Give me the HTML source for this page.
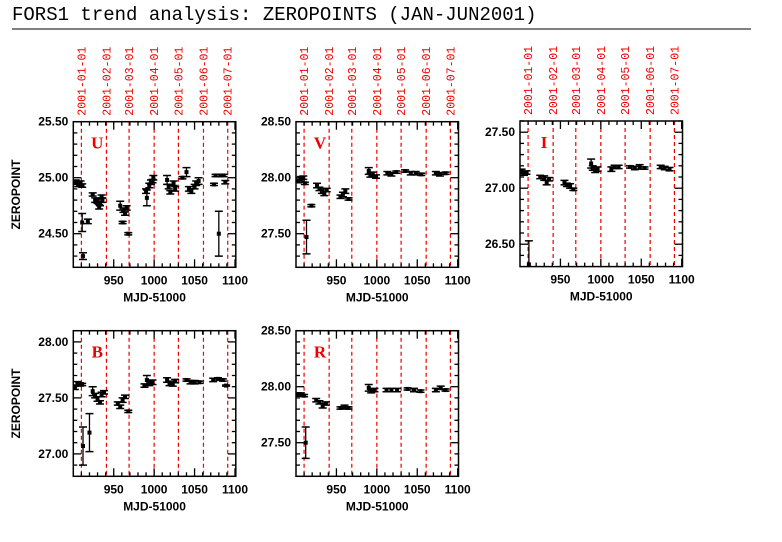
<!DOCTYPE html>
<html><head><meta charset="utf-8"><style>
html,body{margin:0;padding:0;background:#fff;}
svg{display:block;}
</style></head><body>
<svg id="chart" width="782" height="542" viewBox="0 0 782 542" xmlns="http://www.w3.org/2000/svg">
<text x="12" y="20" font-family="Liberation Mono, monospace" font-size="19" fill="#000">FORS1 trend analysis: ZEROPOINTS (JAN-JUN2001)</text>
<line x1="12" y1="29" x2="751" y2="29" stroke="#000" stroke-width="1"/>
</svg>
<script>
// data arrays: [mjd-51000, zeropoint, error]
const uData=[[903,24.96,.02],[906,24.94,.02],[909,24.95,.02],[911,24.93,.015],[911,24.60,.08],[912,24.30,.03],[918,24.61,.02],[924,24.85,.015],[927,24.80,.02],[930,24.79,.02],[933,24.77,.02],[935,24.83,.015],[932,24.74,.02],[936,24.80,.02],[958,24.75,.04],[961,24.60,.01],[962,24.71,.02],[964,24.68,.015],[966,24.73,.02],[968,24.50,.01],[990,24.88,.02],[991,24.82,.07],[994,24.93,.02],[996,24.96,.02],[998,24.97,.015],[999,25.00,.02],[1016,24.98,.04],[1018,24.92,.02],[1020,24.87,.015],[1024,24.95,.02],[1026,24.90,.02],[1035,25.00,.01],[1040,25.05,.04],[1043,24.90,.02],[1046,24.88,.02],[1050,24.92,.02],[1052,24.95,.02],[1055,24.97,.03],[1074,24.94,.01],[1076,25.02,.01],[1080,24.50,.20],[1082,25.02,.01],[1086,25.02,.01],[1088,24.96,.015]];
const vData=[[902,27.97,.015],[906,27.99,.02],[909,28.00,.015],[911,27.95,.01],[913,27.47,.15],[919,27.75,.01],[926,27.93,.02],[929,27.90,.015],[932,27.88,.02],[935,27.86,.02],[938,27.89,.015],[955,27.83,.015],[958,27.85,.02],[961,27.88,.02],[965,27.81,.01],[990,28.06,.03],[992,28.02,.015],[995,28.03,.02],[999,28.01,.015],[1013,28.04,.015],[1018,28.03,.015],[1024,28.05,.01],[1035,28.06,.01],[1042,28.04,.015],[1048,28.04,.015],[1055,28.03,.01],[1073,28.04,.015],[1078,28.03,.015],[1085,28.04,.01]];
const iData=[[902,27.15,.02],[905,27.13,.015],[908,27.14,.015],[911,26.32,.21],[925,27.10,.015],[930,27.09,.02],[933,27.05,.02],[936,27.08,.015],[955,27.05,.02],[958,27.03,.015],[962,27.02,.02],[966,26.99,.01],[988,27.22,.04],[990,27.18,.02],[993,27.16,.02],[996,27.17,.02],[1013,27.17,.02],[1017,27.19,.015],[1022,27.19,.015],[1036,27.19,.01],[1042,27.18,.015],[1048,27.19,.02],[1054,27.18,.01],[1074,27.19,.015],[1079,27.18,.015],[1085,27.17,.015]];
const bData=[[902,27.59,.015],[905,27.63,.015],[908,27.62,.015],[911,27.62,.01],[912,27.07,.17],[920,27.19,.17],[924,27.56,.04],[927,27.52,.02],[930,27.49,.02],[933,27.46,.015],[935,27.53,.02],[938,27.55,.015],[955,27.45,.015],[958,27.42,.015],[961,27.48,.02],[964,27.51,.015],[968,27.38,.01],[988,27.61,.015],[991,27.66,.04],[994,27.63,.02],[998,27.64,.02],[1016,27.66,.02],[1019,27.63,.02],[1023,27.62,.015],[1026,27.65,.015],[1040,27.66,.01],[1045,27.64,.015],[1050,27.64,.015],[1056,27.64,.01],[1073,27.66,.015],[1079,27.67,.01],[1085,27.66,.01],[1089,27.61,.005]];
const rData=[[902,27.93,.015],[906,27.93,.015],[910,27.92,.01],[912,27.50,.14],[925,27.88,.015],[929,27.86,.015],[933,27.83,.02],[937,27.85,.015],[955,27.81,.01],[960,27.82,.015],[965,27.81,.01],[990,27.99,.03],[993,27.96,.015],[997,27.97,.015],[1012,27.97,.015],[1018,27.97,.015],[1025,27.97,.015],[1038,27.98,.01],[1046,27.97,.015],[1054,27.96,.01],[1073,27.97,.015],[1079,27.99,.015],[1085,27.97,.01]];
const monthMjd=[910,941,969,1000,1030,1061,1091];
const monthLabels=["2001-01-01","2001-02-01","2001-03-01","2001-04-01","2001-05-01","2001-06-01","2001-07-01"];
const xTicks=[950,1000,1050,1100];
const xDomain=[900,1101];
const panels=[
 {name:'U',data:uData,x:73.3,y:121.7,ymin:24.2,ymax:25.5,yTicks:[24.5,25.0,25.5],dates:true,ytitle:true},
 {name:'V',data:vData,x:296,y:121.7,ymin:27.2,ymax:28.5,yTicks:[27.5,28.0,28.5],dates:true,ytitle:false},
 {name:'I',data:iData,x:520,y:121,ymin:26.3,ymax:27.6,yTicks:[26.5,27.0,27.5],dates:true,ytitle:false},
 {name:'B',data:bData,x:73.3,y:330.7,ymin:26.8,ymax:28.1,yTicks:[27.0,27.5,28.0],dates:false,ytitle:true},
 {name:'R',data:rData,x:296,y:330.7,ymin:27.2,ymax:28.5,yTicks:[27.5,28.0,28.5],dates:false,ytitle:false}
];
const W=162.5,H=145.6;
const svg=document.getElementById('chart');
const NS='http://www.w3.org/2000/svg';
function mk(tag,attrs,parent){const e=document.createElementNS(NS,tag);for(const k in attrs)e.setAttribute(k,attrs[k]);(parent||svg).appendChild(e);return e;}
panels.forEach(p=>{
 const g=mk('g',{});
 
 
 const sx=v=>p.x+(v-xDomain[0])/(xDomain[1]-xDomain[0])*W;
 const sy=v=>p.y+(p.ymax-v)/(p.ymax-p.ymin)*H;
 const clip='clip'+p.name;
 const cp=mk('clipPath',{id:clip},g);mk('rect',{x:p.x,y:p.y,width:W,height:H},cp);
 // month lines
 monthMjd.forEach((m,i)=>{
  const l=mk('line',{x1:sx(m),x2:sx(m),y1:p.y,y2:p.y+H,stroke:'#e00','stroke-width':1.2,'stroke-dasharray':'4,3'},g);
  
  
  if(p.dates){
   const t=mk('text',{x:0,y:0,transform:`translate(${sx(m)+4},${p.y-6}) rotate(-90)`,'font-family':'Liberation Mono, monospace','font-size':'11.5',fill:'#e00'},g);
   t.textContent=monthLabels[i];
   
   
  }
 });
 // ticks
 for(let v=910;v<=1100;v+=10){
  const major=v%50===0;const len=major?8:4;const xx=sx(v);
  mk('line',{x1:xx,x2:xx,y1:p.y+H,y2:p.y+H-len,stroke:'#000','stroke-width':1.3},g);
  mk('line',{x1:xx,x2:xx,y1:p.y,y2:p.y+len,stroke:'#000','stroke-width':1.3},g);
 }
 for(let k=Math.ceil(p.ymin*10+1e-6);k<=Math.floor(p.ymax*10+1e-6);k++){
  const v=k/10;const major=k%5===0;const len=major?8:4;const yy=sy(v);
  mk('line',{x1:p.x,x2:p.x+len,y1:yy,y2:yy,stroke:'#000','stroke-width':1.3},g);
  mk('line',{x1:p.x+W,x2:p.x+W-len,y1:yy,y2:yy,stroke:'#000','stroke-width':1.3},g);
 }
 xTicks.forEach(v=>{
  const t=mk('text',{x:sx(v),y:p.y+H+17,'text-anchor':'middle','font-family':'Liberation Sans, sans-serif','font-size':'12','font-weight':'bold',fill:'#000'},g);
  t.textContent=v;
  
  
 });
 p.yTicks.forEach(v=>{
  const t=mk('text',{x:p.x-5,y:sy(v)+4,'text-anchor':'end','font-family':'Liberation Sans, sans-serif','font-size':'12','font-weight':'bold',fill:'#000'},g);
  t.textContent=v.toFixed(2);
  
  
 });
 const xt=mk('text',{x:p.x+W/2,y:p.y+H+34,'text-anchor':'middle','font-family':'Liberation Sans, sans-serif','font-size':'12','font-weight':'bold',fill:'#000'},g);
 xt.textContent='MJD-51000';
 
 
 if(p.ytitle){
  const yt=mk('text',{x:0,y:0,transform:`translate(20,${p.y+H/2}) rotate(-90)`,'text-anchor':'middle','font-family':'Liberation Sans, sans-serif','font-size':'12','font-weight':'bold',fill:'#000'},g);
  yt.textContent='ZEROPOINT';
  
  
 }
 const fl=mk('text',{x:p.x+24,y:p.y+27,'text-anchor':'middle','font-family':'Liberation Serif, serif','font-size':'17','font-weight':'bold',fill:'#e00'},g);
 fl.textContent=p.name;
 
 
 // data
 const dg=mk('g',{'clip-path':`url(#${clip})`},g);
 p.data.forEach(d=>{
  const cx=sx(d[0]),cy=sy(d[1]),y1=sy(d[1]+d[2]),y2=sy(d[1]-d[2]);
  const pg=mk('g',{},dg);
  
  
  mk('line',{x1:cx,x2:cx,y1:y1,y2:y2,stroke:'#000','stroke-width':1.3},pg);
  mk('line',{x1:cx-4,x2:cx+4,y1:y1,y2:y1,stroke:'#000','stroke-width':1.5},pg);
  mk('line',{x1:cx-4,x2:cx+4,y1:y2,y2:y2,stroke:'#000','stroke-width':1.5},pg);
  mk('rect',{x:cx-2,y:cy-2,width:4,height:4,fill:'#000'},pg);
 });
 const fr=mk('rect',{x:p.x,y:p.y,width:W,height:H,fill:'none',stroke:'#000','stroke-width':1.5},g);
 
 
});
</script>
</body></html>
